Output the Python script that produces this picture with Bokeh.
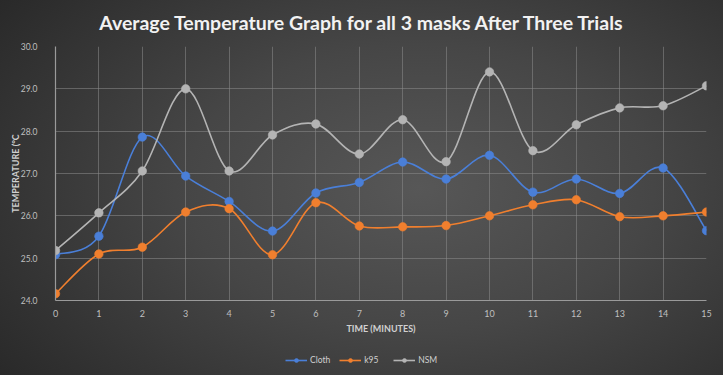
from bokeh.plotting import figure
from bokeh.layouts import column
from bokeh.models import Legend, LegendItem, ColumnDataSource, FixedTicker, Range1d, PrintfTickFormatter, Label
from bokeh.embed import file_html
from bokeh.resources import INLINE

minutes = list(range(16))
cloth = [25.08, 25.52, 27.86, 26.94, 26.34, 25.64, 26.54, 26.79, 27.27, 26.87, 27.43, 26.56, 26.87, 26.53, 27.13, 25.65]
k95 = [24.16, 25.10, 25.26, 26.09, 26.17, 25.08, 26.31, 25.76, 25.74, 25.77, 26.00, 26.26, 26.38, 25.98, 26.00, 26.09]
nsm = [25.18, 26.07, 27.06, 29.00, 27.06, 27.91, 28.17, 27.46, 28.27, 27.28, 29.40, 27.54, 28.15, 28.55, 28.60, 29.07]
series = [("Cloth", cloth, "#4a7fd8"), ("k95", k95, "#f07f2e"), ("NSM", nsm, "#b4b4b4")]
y_ticks = [24, 25, 26, 27, 28, 29, 30]
title_text = "Average Temperature Graph for all 3 masks After Three Trials"

FONT = "Lato"

def strip(h):
    f = figure(width=723, height=h, output_backend="svg", toolbar_location=None,
               x_range=Range1d(0, 1), y_range=Range1d(0, 1), x_axis_type=None, y_axis_type=None,
               min_border_left=0, min_border_right=0, min_border_top=0, min_border_bottom=0)
    f.border_fill_color = None
    f.background_fill_color = None
    f.outline_line_color = None
    f.grid.visible = False
    return f

# title strip
tf = strip(38)
tf.add_layout(Label(x=307, y=16, x_units="screen", y_units="screen", text=title_text,
                    text_align="center", text_baseline="middle", text_color="#f2f2f2",
                    text_font=FONT, text_font_size="19.5px", text_font_style="bold"))

p = figure(width=723, height=302, output_backend="svg", toolbar_location=None,
           x_range=Range1d(0, 15), y_range=Range1d(24, 30),
           min_border_left=55, min_border_right=17, min_border_top=8, min_border_bottom=40)
p.border_fill_color = None
p.background_fill_color = None
p.outline_line_color = None

p.xaxis.ticker = FixedTicker(ticks=minutes)
p.yaxis.ticker = FixedTicker(ticks=y_ticks)
p.yaxis.formatter = PrintfTickFormatter(format="%.1f")
for ax in (p.xaxis[0], p.yaxis[0]):
    ax.major_label_text_color = "#bfbfbf"
    ax.major_label_text_font = FONT
    ax.major_label_text_font_size = "9px"
    ax.axis_line_color = "#9a9a9a"
    ax.axis_line_width = 1.2
    ax.major_tick_line_color = None
    ax.major_tick_out = 0
    ax.major_tick_in = 0
    ax.minor_tick_line_color = None
    ax.minor_tick_out = 0
    ax.axis_label_text_color = "#d0d0d0"
    ax.axis_label_text_font = FONT
    ax.axis_label_text_font_size = "9px"
    ax.axis_label_text_font_style = "bold"
p.yaxis.major_label_text_font_size = "8.5px"
p.xaxis.axis_label = "TIME (MINUTES)"
p.yaxis.axis_label = "TEMPERATURE (°C"
p.xaxis.major_label_standoff = 9
p.yaxis.major_label_standoff = 18
p.xaxis.axis_label_standoff = 3
p.yaxis.axis_label_standoff = -3

p.grid.grid_line_color = "#8a8a8a"
p.grid.grid_line_alpha = 0.55
p.grid.grid_line_width = 1

def ctrl(xs, ys):
    n = len(xs)
    out = {k: [] for k in ("x0", "y0", "x1", "y1", "cx0", "cy0", "cx1", "cy1")}
    t = 1 / 6
    for i in range(n - 1):
        p0 = (xs[max(i - 1, 0)], ys[max(i - 1, 0)])
        p1 = (xs[i], ys[i])
        p2 = (xs[i + 1], ys[i + 1])
        p3 = (xs[min(i + 2, n - 1)], ys[min(i + 2, n - 1)])
        out["x0"].append(p1[0]); out["y0"].append(p1[1])
        out["x1"].append(p2[0]); out["y1"].append(p2[1])
        out["cx0"].append(p1[0] + (p2[0] - p0[0]) * t)
        out["cy0"].append(p1[1] + (p2[1] - p0[1]) * t)
        out["cx1"].append(p2[0] - (p3[0] - p1[0]) * t)
        out["cy1"].append(p2[1] - (p3[1] - p1[1]) * t)
    return out

for name, vals, col in series:
    src = ColumnDataSource(ctrl(minutes, vals))
    p.bezier("x0", "y0", "x1", "y1", "cx0", "cy0", "cx1", "cy1", source=src,
             line_color=col, line_width=1.6)
    p.scatter(minutes, vals, size=8.5, fill_color=col, line_color=col, line_alpha=0.6)

# legend strip below the chart
lf = strip(35)
nan = float("nan")
items = []
for name, vals, col in series:
    lr = lf.line([nan, nan], [nan, nan], line_color=col, line_width=1.6)
    sr = lf.scatter([nan], [nan], size=7, fill_color=col, line_color=col, line_alpha=0.6)
    items.append(LegendItem(label=name, renderers=[lr, sr]))
legend = Legend(items=items, orientation="horizontal", location=(230, 10),
                background_fill_alpha=0, border_line_color=None,
                label_text_color="#d0d0d0", label_text_font=FONT, label_text_font_size="8.5px",
                glyph_width=22, glyph_height=10, spacing=9, margin=0, padding=2,
                label_standoff=3)
lf.add_layout(legend)

layout = column(tf, p, lf, spacing=0)
layout.styles = {"background": "radial-gradient(ellipse 72% 85% at 58% 50%, #575757 0%, #464646 45%, #292929 100%)"}

open("out.html", "w").write(file_html(layout, INLINE))
